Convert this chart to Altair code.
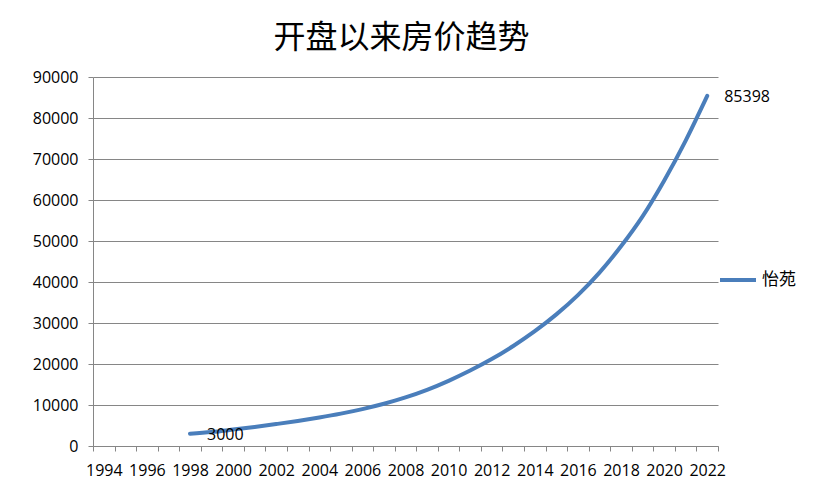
import altair as alt
import pandas as pd

# category axis, every year
years = list(range(1994, 2023))

# series: 怡苑
price_years = [1998, 1999, 2000, 2001, 2002, 2003, 2004, 2005, 2006, 2007,
               2008, 2009, 2010, 2011, 2012, 2013, 2014, 2015, 2016, 2017,
               2018, 2019, 2020, 2021, 2022]
prices = [3000, 3400, 4000, 4650, 5350, 6100, 6950, 7900, 9000, 10300,
          11850, 13700, 15900, 18400, 21200, 24400, 28000, 32100, 36800, 42300,
          48700, 56000, 64700, 74500, 85398]
series_name = "怡苑"
labelled_years = [1998, 2022]

TITLE = "开盘以来房价趋势"
LINE_COLOR = "#4A7EBB"
GRID_COLOR = "#868686"
FONT = "Open Sans"
CJK_FONT = "Noto Sans CJK SC"


def build_chart() -> alt.LayerChart:
    df = pd.DataFrame({"year": price_years, "price": prices})
    df["series"] = series_name

    x = alt.X(
        "year:O",
        title=None,
        scale=alt.Scale(domain=years, paddingInner=0, paddingOuter=0),
        axis=alt.Axis(
            labelAngle=0,
            labelOverlap=False,
            labelExpr="datum.value % 2 == 0 ? datum.label : ''",
            tickBand="extent",
            grid=False,
            tickSize=5,
            labelPadding=11,
        ),
    )
    y = alt.Y(
        "price:Q",
        title=None,
        scale=alt.Scale(domain=[0, 90000], nice=False),
        axis=alt.Axis(tickCount=9, tickSize=5, labelPadding=10, grid=True,
                      format="d", labelBaseline="middle"),
    )

    line = (
        alt.Chart(df)
        .mark_line(interpolate="monotone", strokeWidth=4, strokeCap="round")
        .encode(
            x=x,
            y=y,
            color=alt.Color(
                "series:N",
                scale=alt.Scale(range=[LINE_COLOR]),
                legend=alt.Legend(
                    title=None,
                    orient="none",
                    legendX=625,
                    legendY=183,
                    symbolType="stroke",
                    symbolSize=1296,
                    symbolStrokeWidth=4,
                    labelFont=CJK_FONT,
                    labelFontSize=17,
                    labelColor="#000000",
                    labelOffset=4,
                    padding=0,
                ),
            ),
        )
    )

    labels = (
        alt.Chart(df)
        .transform_filter(alt.FieldOneOfPredicate(field="year", oneOf=labelled_years))
        .mark_text(align="left", baseline="middle", dx=17, dy=1,
                   font=FONT, fontSize=16, color="#000000")
        .encode(x=x, y=y, text=alt.Text("price:Q", format="d"))
    )

    return (
        alt.layer(line, labels)
        .properties(
            width=625,
            height=369,
            autosize=alt.AutoSizeParams(type="none"),
            padding={"left": 85, "top": 69, "right": 105, "bottom": 49},
            title=alt.TitleParams(
                TITLE,
                font=CJK_FONT,
                fontSize=32,
                fontWeight="normal",
                color="#000000",
                anchor="middle",
                frame="group",
                baseline="alphabetic",
                offset=27,
                dx=-4,
                dy=38,
            ),
        )
        .configure_axis(
            domainColor=GRID_COLOR,
            tickColor=GRID_COLOR,
            gridColor=GRID_COLOR,
            gridOpacity=1,
            labelFont=FONT,
            labelFontSize=16,
            labelColor="#000000",
        )
        .configure_view(strokeOpacity=0)
    )


if __name__ == "__main__":
    chart = build_chart()
    chart.save("out.html", embed_options={"renderer": "svg", "actions": False})
